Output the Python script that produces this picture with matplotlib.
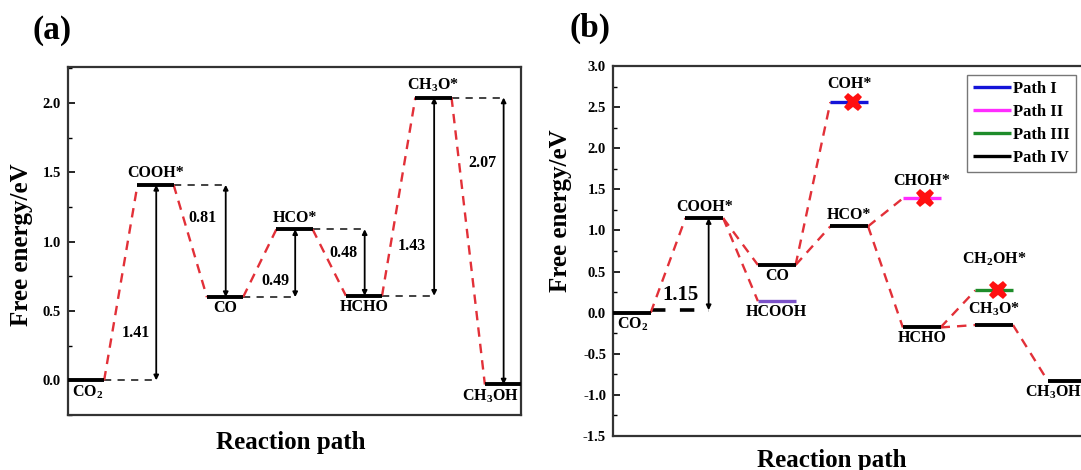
import matplotlib
matplotlib.use("Agg")
import matplotlib.pyplot as plt
from matplotlib.ticker import MultipleLocator

plt.rcParams["font.family"] = ["Liberation Serif", "DejaVu Serif"]
plt.rcParams["font.weight"] = "bold"
plt.rcParams["mathtext.fontset"] = "custom"
plt.rcParams["mathtext.rm"] = "Liberation Serif:bold"
plt.rcParams["mathtext.bf"] = "Liberation Serif:bold"
plt.rcParams["mathtext.it"] = "Liberation Serif:bold"
plt.rcParams["mathtext.default"] = "rm"

# ---------------- data: panel (a) ----------------
a_species = ["CO$_2$", "COOH*", "CO", "HCO*", "HCHO", "CH$_3$O*", "CH$_3$OH"]
a_energy = [0.0, 1.41, 0.60, 1.09, 0.61, 2.04, -0.03]
a_label_side = ["below", "above", "below", "above", "below", "above", "below"]
a_gaps = ["1.41", "0.81", "0.49", "0.48", "1.43", "2.07"]

# ---------------- data: panel (b) ----------------
b_species = ["CO$_2$", "COOH*", "CO", "HCOOH", "COH*", "HCO*", "CHOH*",
             "HCHO", "CH$_2$OH*", "CH$_3$O*", "CH$_3$OH"]
b_column = [0, 1, 2, 2, 3, 3, 4, 4, 5, 5, 6]
b_energy = [0.0, 1.15, 0.58, 0.14, 2.56, 1.05, 1.39, -0.18, 0.27, -0.15, -0.83]
b_label_side = ["below", "above", "below", "below", "above_mark", "above",
                "above_mark", "below", "above_high", "above_mid", "below"]
b_path = ["IV", "IV", "IV", "HCOOH", "I", "IV", "II", "IV", "III", "IV", "IV"]
b_links = [(0, 1), (1, 2), (1, 3), (2, 4), (2, 5), (5, 6), (5, 7),
           (7, 8), (7, 9), (9, 10)]
b_blocked = [4, 6, 8]
b_gap = "1.15"
b_gap_base = 0.03

path_colors = {"I": "#1414d8", "II": "#ff2cff", "III": "#1e8c2a",
               "IV": "black", "HCOOH": "#7b52c8"}
legend_paths = ["I", "II", "III", "IV"]

# ---------------- style / layout ----------------
W = 0.52          # level width in column units
RED = "#e23038"
SPINE = "#333333"
LBL = 11.5

fig = plt.figure(figsize=(10.81, 4.70), dpi=100)
ax_a = fig.add_axes([68 / 1081, 1 - 415 / 470, 453 / 1081, 348 / 470])
ax_b = fig.add_axes([613 / 1081, 1 - 436 / 470, 471 / 1081, 370 / 470])


def style_axes(ax):
    for s in ax.spines.values():
        s.set_color(SPINE)
        s.set_linewidth(1.6)
    ax.set_xticks([])
    ax.tick_params(axis="y", which="both", direction="in", left=True,
                   right=False, labelsize=10.5, pad=5)
    ax.tick_params(axis="y", which="major", length=5, width=1.2)
    ax.tick_params(axis="y", which="minor", length=3, width=1.0)
    for t in ax.get_yticklabels():
        t.set_fontweight("bold")


def put_label(ax, text, x0, e, side, ha="center", right_pad=0.03):
    offs = {"above": 2.5, "above_mid": 5, "above_mark": 7,
            "above_high": 16, "below": -2}
    va = "bottom" if side.startswith("above") else "top"
    xc = {"center": x0 + W / 2, "left": x0 + 0.06,
          "right": x0 + W - right_pad}[ha]
    ax.annotate(text, xy=(xc, e), xytext=(0, offs[side]),
                textcoords="offset points", ha=ha, va=va, fontsize=LBL,
                fontweight="bold")


def double_arrow(ax, x, e1, e2):
    ax.annotate("", xy=(x, e2), xytext=(x, e1),
                arrowprops=dict(arrowstyle="<|-|>", color="black", lw=1.3,
                                mutation_scale=7, shrinkA=0, shrinkB=0))


# ================= panel (a) =================
ax = ax_a
n = len(a_species)
for i in range(n - 1):
    ax.plot([i + W, i + 1], [a_energy[i], a_energy[i + 1]], color=RED,
            lw=1.7, dashes=(4, 3), zorder=2)
for i, (name, e) in enumerate(zip(a_species, a_energy)):
    ax.plot([i, i + W], [e, e], color="black", lw=2.8, solid_capstyle="butt",
            zorder=3)
    ha = "center"
    if i == 0:
        ha = "left"
    elif i == n - 1:
        ha = "right"
    put_label(ax, name, i, e, a_label_side[i], ha=ha)

a_gap_text_pos = [(0.98, 0.34), (1.93, 1.17), (2.98, 0.72), (3.96, 0.92),
                  (4.95, 0.97), (5.96, 1.57)]
for i, g in enumerate(a_gaps):
    xa = i + 1 + 0.27
    ax.plot([i + W, xa], [a_energy[i], a_energy[i]], color=SPINE, lw=1.3,
            dashes=(4, 3.5), zorder=1)
    double_arrow(ax, xa, a_energy[i], a_energy[i + 1])
    tx, ty = a_gap_text_pos[i]
    ax.text(tx, ty, g, ha="center", va="center", fontsize=LBL,
            fontweight="bold")

ax.set_xlim(0, 6.52)
ax.set_ylim(-0.25, 2.26)
ax.yaxis.set_major_locator(MultipleLocator(0.5))
ax.yaxis.set_minor_locator(MultipleLocator(0.25))
ax.set_yticks([0.0, 0.5, 1.0, 1.5, 2.0])
ax.set_yticklabels(["0.0", "0.5", "1.0", "1.5", "2.0"])
style_axes(ax)
ax.set_ylabel("Free energy/eV", fontsize=18, fontweight="bold")
ax.yaxis.set_label_coords(-0.078, 0.49)

# ================= panel (b) =================
ax = ax_b
for s, t in b_links:
    ax.plot([b_column[s] + W, b_column[t]], [b_energy[s], b_energy[t]],
            color=RED, lw=1.7, dashes=(4, 3), zorder=2)

handles = {}
for i, (name, e) in enumerate(zip(b_species, b_energy)):
    c = b_column[i]
    col = path_colors[b_path[i]]
    lw = 2.8 if b_path[i] == "IV" else 2.4
    ln, = ax.plot([c, c + W], [e, e], color=col, lw=lw,
                  solid_capstyle="butt", zorder=3)
    handles.setdefault(b_path[i], ln)
    ha = "center"
    if i == 0:
        ha = "left"
    elif i == len(b_species) - 1:
        ha = "right"
    put_label(ax, name, c, e, b_label_side[i], ha=ha, right_pad=0.05)

for i in b_blocked:
    ax.plot(b_column[i] + W * 0.6, b_energy[i], marker="X", color="#ff1010",
            markersize=13, markeredgewidth=0, zorder=4)

xa = 1 + 0.32
ax.plot([W, xa], [b_gap_base, b_gap_base], color="black", lw=2.6,
        dashes=(4, 4), zorder=1)
double_arrow(ax, xa, b_gap_base, b_energy[1])
ax.text(0.93, 0.21, b_gap, ha="center", va="center", fontsize=15,
        fontweight="bold")

leg = ax.legend([handles[p] for p in legend_paths],
                ["Path " + p for p in legend_paths], loc="upper right",
                bbox_to_anchor=(0.99, 0.985), fancybox=False, framealpha=1,
                edgecolor="#777777", handlelength=2.3,
                handletextpad=0.15, labelspacing=0.42, borderpad=0.35,
                borderaxespad=0.2, prop={"weight": "bold", "size": 12})
leg.get_frame().set_linewidth(1.0)
for h in leg.get_lines():
    h.set_linewidth(2.4)

ax.set_xlim(0, 6.5)
ax.set_ylim(-1.5, 3.0)
ax.yaxis.set_major_locator(MultipleLocator(0.5))
ax.yaxis.set_minor_locator(MultipleLocator(0.25))
ticks_b = [-1.5, -1.0, -0.5, 0.0, 0.5, 1.0, 1.5, 2.0, 2.5, 3.0]
ax.set_yticks(ticks_b)
ax.set_yticklabels([f"{t:.1f}" for t in ticks_b])
style_axes(ax)
ax.set_ylabel("Free energy/eV", fontsize=18, fontweight="bold")
ax.yaxis.set_label_coords(-0.087, 0.61)

# ---------------- figure texts ----------------
fig.text(52 / 1081, 1 - 30 / 470, "(a)", fontsize=24, fontweight="bold",
         ha="center", va="center")
fig.text(590 / 1081, 1 - 28 / 470, "(b)", fontsize=24, fontweight="bold",
         ha="center", va="center")
fig.text(291 / 1081, 1 - 443 / 470, "Reaction path", fontsize=18,
         fontweight="bold", ha="center", va="center")
fig.text(832 / 1081, 1 - 460 / 470, "Reaction path", fontsize=18,
         fontweight="bold", ha="center", va="center")

fig.savefig("out.png", dpi=100)
